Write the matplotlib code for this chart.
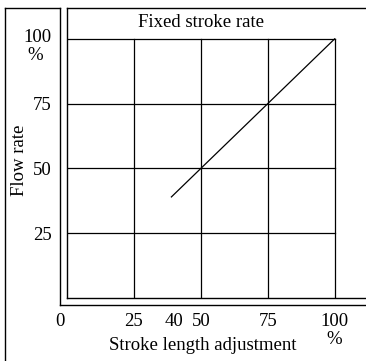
import numpy as np
import matplotlib
matplotlib.use("Agg")
import matplotlib.pyplot as plt
from matplotlib.lines import Line2D
from matplotlib.transforms import ScaledTranslation

plt.rcParams['font.family'] = ['Liberation Serif', 'DejaVu Serif']
plt.rcParams['font.size'] = 13.5

# stroke length (%) vs flow rate (%) at fixed stroke rate
stroke_len = [39, 100]
flow_rate = [39, 100]

x_ticks = [0, 25, 40, 50, 75, 100]
y_ticks = [25, 50, 75, 100]
grid_x = [25, 50, 75, 100]
grid_y = [25, 50, 75, 100]

W, H = 366, 361
fig = plt.figure(figsize=(W / 100, H / 100), dpi=100)

def fx(px):
    return px / W

def fy(py):
    return 1 - py / H

ax = fig.add_axes([fx(67), fy(298), fx(366) - fx(67), fy(8) - fy(298)])
ax.set_xlim(0, 111.7)
ax.set_ylim(0, 111.9)
for side in ['left', 'bottom', 'top']:
    ax.spines[side].set_linewidth(1.0)
ax.spines['right'].set_visible(False)

# grid only covers the 0..100 square
for gx in grid_x:
    ax.plot([gx, gx], [0, 100], color='black', lw=0.9)
for gy in grid_y:
    ax.plot([0, 100], [gy, gy], color='black', lw=0.9)

ax.plot(stroke_len, flow_rate, color='black', lw=0.9)

ax.set_xticks(x_ticks, [str(t) for t in x_ticks])
ax.set_yticks(y_ticks, [str(t) for t in y_ticks])
ax.tick_params(length=0)
ax.tick_params(axis='x', pad=11)
ax.tick_params(axis='y', pad=11)
# the 0 label sits under the outer frame line
lab0 = ax.get_xticklabels()[0]
lab0.set_transform(lab0.get_transform() + ScaledTranslation(-7 / 100, 0, fig.dpi_scale_trans))
lab100 = ax.get_yticklabels()[-1]
lab100.set_transform(lab100.get_transform() + ScaledTranslation(0, 3 / 100, fig.dpi_scale_trans))

ax.text(100, -16.0, '%', ha='center', va='center', clip_on=False)
ax.text(-12, 93.5, '%', ha='center', va='center', clip_on=False)

ax.text(50, 106.2, 'Fixed stroke rate', ha='center', va='center')

fig.text(fx(203), fy(346), 'Stroke length adjustment', ha='center', va='center')
fig.text(fx(20), fy(160), 'Flow rate', ha='center', va='center', rotation=90)

# outer frame
frame = [
    ([5, 5], [8, 361]),
    ([5, 60], [8, 8]),
    ([60, 60], [8, 305]),
    ([60, 366], [305, 305]),
]
for xs, ys in frame:
    fig.add_artist(Line2D([fx(v) for v in xs], [fy(v) for v in ys],
                          transform=fig.transFigure, color='black', lw=1.0))

fig.savefig('out.png', dpi=100)
